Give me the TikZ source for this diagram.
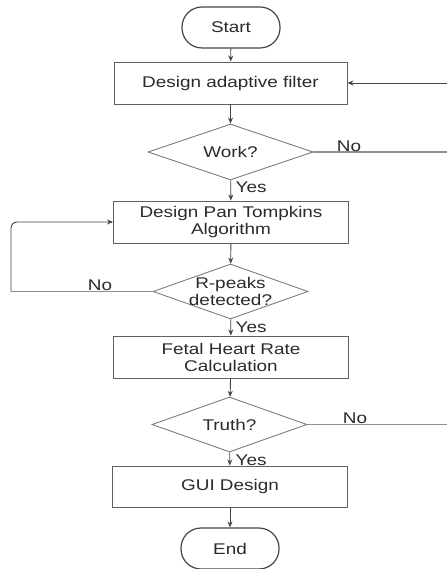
\documentclass[tikz,border=0pt]{standalone}
\usepackage{fontspec}
\setmainfont{Liberation Sans}[FakeStretch=1.22]
\usetikzlibrary{shapes.geometric,arrows.meta}
\definecolor{ln}{HTML}{444444}
\definecolor{tx}{HTML}{2A2A2A}
\begin{document}
\begin{tikzpicture}[x=1pt,y=-1pt,
  every node/.style={text=tx,font=\fontsize{15.5}{17}\selectfont},
  term/.style={draw=ln,line width=1.2pt,rounded corners=20pt,minimum width=98pt,minimum height=41pt,inner sep=0pt},
  proc/.style={draw=ln!85,line width=0.9pt,minimum width=235pt,minimum height=42pt,align=center,inner sep=0pt},
  dec/.style={diamond,draw=ln!70,line width=0.9pt,minimum width=160pt,minimum height=56pt,inner sep=-10pt,shape aspect=2.8,align=center},
  lbl/.style={inner sep=0pt},
  flow/.style={draw=ln,line width=0.9pt,-{Stealth[length=6pt,width=5pt]}},
  plain/.style={draw=ln!60,line width=1.2pt}]
\useasboundingbox (0,0) rectangle (447,569);
\node[term] (start) at (231,27.5) {Start};
\node[proc,minimum width=233pt] (filt) at (230.5,83) {Design adaptive filter};
\node[dec,minimum width=165pt] (work) at (230.5,152) {Work?};
\node[proc] (pan) at (231,222) {Design Pan Tompkins\\Algorithm};
\node[dec,minimum width=155pt,minimum height=55pt] (rp) at (230.5,291.5) {R-peaks\\detected?};
\node[proc] (fetal) at (231,357) {Fetal Heart Rate\\Calculation};
\node[dec,minimum width=155pt,minimum height=55pt] (truth) at (229.5,424.5) {Truth?};
\node[proc,minimum height=41pt] (gui) at (230,486.5) {GUI Design};
\node[term] (end) at (230,548.5) {End};
\coordinate (r1) at (447,152);
\coordinate (r2) at (447,83);
\coordinate (r3) at (447,424.5);
\coordinate (l1) at (11,291.5);
\coordinate (l2) at (11,222);
\draw[flow] (start) -- (filt);
\draw[flow] (filt) -- (work);
\draw[flow] (work) -- (pan);
\draw[flow] (pan) -- (rp);
\draw[flow] (rp) -- (fetal);
\draw[flow] (fetal) -- (truth);
\draw[flow] (truth) -- (gui);
\draw[flow] (gui) -- (end);
\draw[plain] (work.east) -- (r1);
\draw[flow] (r2) -- (filt.east);
\draw[plain] (truth.east) -- (r3);
\draw[plain] (rp.west) -- (l1);
\draw[flow,rounded corners=6pt] (l1) -- (l2) -- (pan.west);
\node[lbl,anchor=west] (y1) at (235.5,187.5) {Yes};
\node[lbl,anchor=west] (y2) at (235.5,327) {Yes};
\node[lbl,anchor=west] (y3) at (235.5,460) {Yes};
\node[lbl] (n1) at (349,146.5) {No};
\node[lbl] (n2) at (100,285) {No};
\node[lbl] (n3) at (355,418) {No};
\end{tikzpicture}
\end{document}
